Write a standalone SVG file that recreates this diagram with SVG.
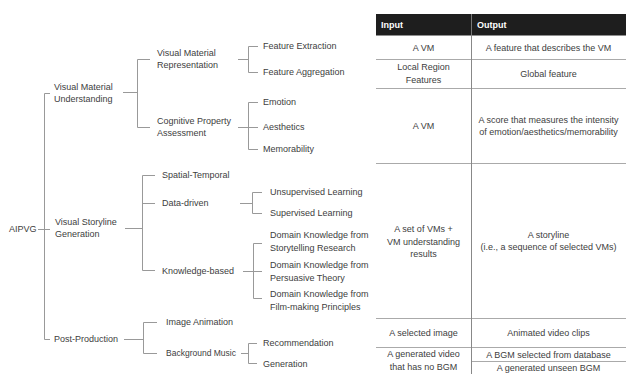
<svg xmlns="http://www.w3.org/2000/svg" width="626" height="374" viewBox="0 0 626 374">
<style>
text{font-family:"Liberation Sans",Arial,sans-serif;font-size:9px;fill:#404040}
.c{text-anchor:middle}
.h{fill:#fff;font-weight:bold}
.ln{fill:none;stroke:#999;stroke-width:1}
.tl{stroke:#aaa;stroke-width:1}
.dv{stroke:#888;stroke-width:1}
</style>
<rect width="626" height="374" fill="#fff"/>
<g id="connectors" class="ln">
<path d="M50,93.5H44.5V339.5H50M38,229.5H50"/>
<path d="M123,92.5H137.5M150,59.5H137.5V127.5H150"/>
<path d="M238,59.5H248.5M258,46.5H248.5V72.5H258"/>
<path d="M238,127.5H258M258,102.5H248.5V149.5H258"/>
<path d="M125,228.5H142.5M155,175.5H142.5V270.5H155M142.5,203.5H155"/>
<path d="M240,203.5H252.5M262,192.5H252.5V213.5H262"/>
<path d="M243,271.5H262M262,243.5H253.5V298.5H262"/>
<path d="M124,339.5H143.5M157,322.5H143.5V353.5H157"/>
<path d="M241,353.5H248.5M257,343.5H248.5V363.5H257"/>
</g>
<g id="n-aipvg"><text x="9" y="232">AIPVG</text></g>
<g id="n-vmu"><text x="54" y="90">Visual Material</text><text x="54" y="102">Understanding</text></g>
<g id="n-vsg"><text x="55" y="225">Visual Storyline</text><text x="55" y="237">Generation</text></g>
<g id="n-pp"><text x="54" y="342">Post-Production</text></g>
<g id="n-vmr"><text x="157" y="56">Visual Material</text><text x="157" y="68">Representation</text></g>
<g id="n-cpa"><text x="157" y="124">Cognitive Property</text><text x="157" y="136">Assessment</text></g>
<g id="n-st"><text x="162" y="178">Spatial-Temporal</text></g>
<g id="n-dd"><text x="162" y="206">Data-driven</text></g>
<g id="n-kb"><text x="162" y="274">Knowledge-based</text></g>
<g id="n-ia"><text x="166" y="325">Image Animation</text></g>
<g id="n-bm"><text x="166" y="356" textLength="70" lengthAdjust="spacingAndGlyphs">Background Music</text></g>
<g id="n-fe"><text x="263" y="49">Feature Extraction</text></g>
<g id="n-fa"><text x="263" y="75">Feature Aggregation</text></g>
<g id="n-em"><text x="263" y="105">Emotion</text></g>
<g id="n-ae"><text x="263" y="130">Aesthetics</text></g>
<g id="n-me"><text x="263" y="152">Memorability</text></g>
<g id="n-ul"><text x="270" y="195">Unsupervised Learning</text></g>
<g id="n-sl"><text x="270" y="216">Supervised Learning</text></g>
<g id="n-dk1"><text x="270" y="238">Domain Knowledge from</text><text x="270" y="251">Storytelling Research</text></g>
<g id="n-dk2"><text x="270" y="268">Domain Knowledge from</text><text x="270" y="281">Persuasive Theory</text></g>
<g id="n-dk3"><text x="270" y="297">Domain Knowledge from</text><text x="270" y="310">Film-making Principles</text></g>
<g id="n-rec"><text x="263" y="346">Recommendation</text></g>
<g id="n-gen"><text x="263" y="367">Generation</text></g>
<g id="table">
<rect x="376" y="14" width="250" height="21.5" fill="#1e1e1e"/>
<line x1="471.5" y1="14" x2="471.5" y2="35.5" stroke="#777"/>
<text class="h" x="381" y="28">Input</text>
<text class="h" x="477" y="28">Output</text>
<g class="tl">
<line x1="376" y1="59.5" x2="626" y2="59.5"/>
<line x1="376" y1="88.5" x2="626" y2="88.5"/>
<line x1="376" y1="163.5" x2="626" y2="163.5"/>
<line x1="376" y1="318.5" x2="626" y2="318.5"/>
<line x1="376" y1="347.5" x2="626" y2="347.5"/>
<line x1="471.5" y1="361.5" x2="626" y2="361.5"/>
</g>
<line class="dv" x1="471.5" y1="35.5" x2="471.5" y2="374"/>
<text class="c" x="423.5" y="50.5">A VM</text>
<text class="c" x="548.5" y="50.5">A feature that describes the VM</text>
<text class="c" x="423.5" y="70">Local Region</text>
<text class="c" x="423.5" y="83">Features</text>
<text class="c" x="548.5" y="77">Global feature</text>
<text class="c" x="423.5" y="129">A VM</text>
<text class="c" x="548.5" y="122.5">A score that measures the intensity</text>
<text class="c" x="548.5" y="135">of emotion/aesthetics/memorability</text>
<text class="c" x="423.5" y="232">A set of VMs +</text>
<text class="c" x="423.5" y="244.5">VM understanding</text>
<text class="c" x="423.5" y="257">results</text>
<text class="c" x="548.5" y="237.5">A storyline</text>
<text class="c" x="548.5" y="250">(i.e., a sequence of selected VMs)</text>
<text class="c" x="423.5" y="336">A selected image</text>
<text class="c" x="548.5" y="336">Animated video clips</text>
<text class="c" x="423.5" y="357">A generated video</text>
<text class="c" x="423.5" y="370">that has no BGM</text>
<text class="c" x="548.5" y="357.5">A BGM selected from database</text>
<text class="c" x="548.5" y="370.5">A generated unseen BGM</text>
</g>
</svg>
